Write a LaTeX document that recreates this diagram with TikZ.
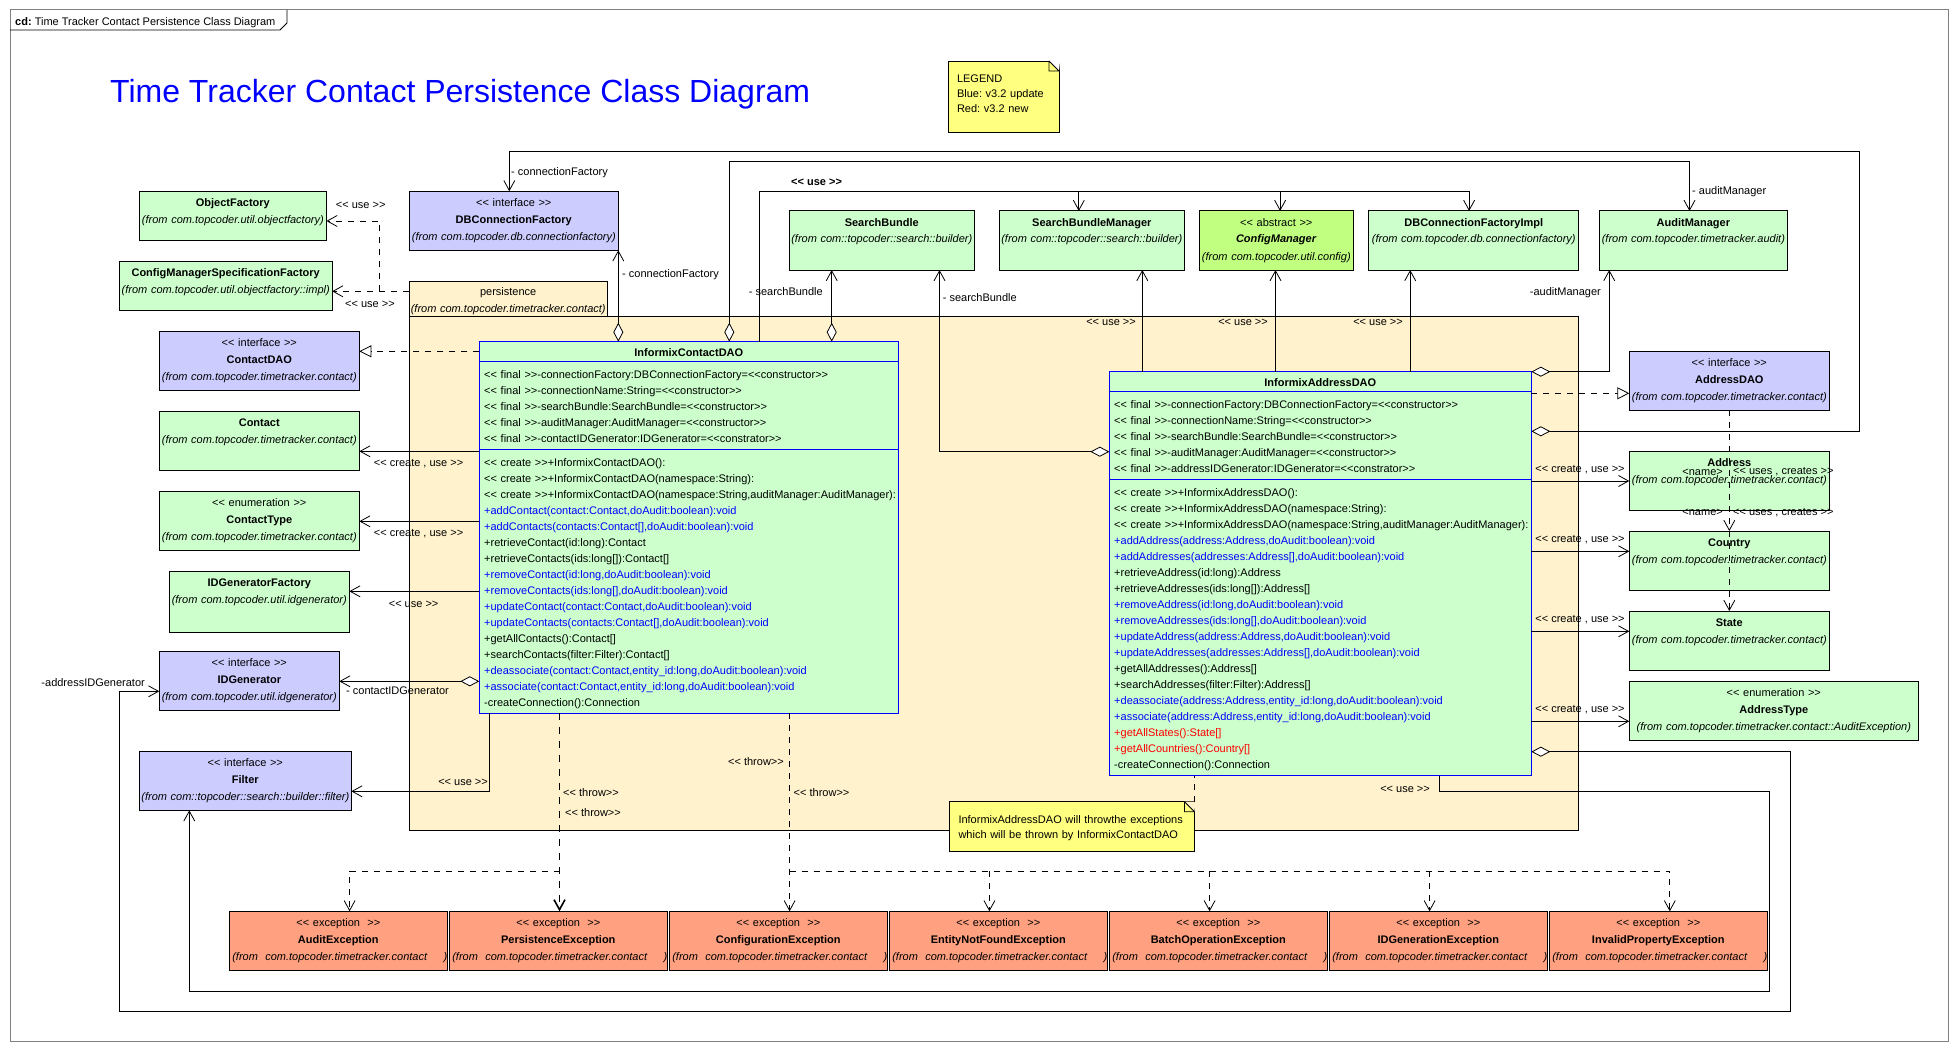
\documentclass[tikz,border=0pt]{standalone}
\usepackage{fontspec}
\usepackage{xcolor}
\usepackage{tikz}
\usetikzlibrary{arrows.meta, positioning}

\newfontfamily\umlfont{Liberation Sans}

\definecolor{classgreen}{RGB}{204,255,204}
\definecolor{ifaceblue}{RGB}{204,204,255}
\definecolor{abstractgreen}{RGB}{192,255,128}
\definecolor{excsalmon}{RGB}{255,160,128}
\definecolor{pkgcream}{RGB}{255,242,204}
\definecolor{noteyellow}{RGB}{255,255,128}
\definecolor{implblue}{RGB}{0,0,255}
\definecolor{v32blue}{RGB}{0,0,255}
\definecolor{v32red}{RGB}{255,0,0}
\definecolor{framegray}{RGB}{128,128,128}

\begin{document}
\frenchspacing
\begin{tikzpicture}[
  x=1pt, y=-1pt,
  umlclass/.style={
    draw=black,
    line width=1pt,
    fill=classgreen,
    anchor=north west,
    inner sep=0pt,
    outer sep=0pt,
    text width=#1,
    align=center,
    text height=15pt,
    text depth=44pt,
    font=\umlfont\fontsize{11}{17}\selectfont
  },
  ifaceclass/.style={umlclass=#1, fill=ifaceblue},
  excclass/.style={umlclass=#1, fill=excsalmon},
  implclass/.style={draw=implblue, line width=1pt, fill=classgreen, anchor=north west, inner sep=0pt, outer sep=0pt},
  members/.style={anchor=north west, inner sep=0pt, text width=430pt, align=left,
    text height=12pt, font=\umlfont\fontsize{11}{16}\selectfont},
  pkg/.style={draw=black, line width=1pt, fill=pkgcream, anchor=north west, inner sep=0pt, outer sep=0pt,
    font=\umlfont\fontsize{11}{17}\selectfont},
  note/.style={draw=black, line width=0.8pt, fill=noteyellow, anchor=north west, inner sep=0pt, outer sep=0pt,
    align=left, font=\umlfont\fontsize{11}{15}\selectfont},
  lbl/.style={inner sep=0pt, font=\umlfont\fontsize{11}{13}\selectfont},
  assoc/.style={-{Straight Barb[length=10pt,width=11pt]}, line width=0.8pt},
  aggr/.style={{Diamond[length=19pt,width=10pt,fill=white]}-{Straight Barb[length=10pt,width=11pt]}, line width=0.8pt},
  depend/.style={assoc, dash pattern=on 6pt off 6pt},
  realize/.style={-{Triangle[length=12pt,width=12pt,fill=white]}, line width=0.8pt, dash pattern=on 6pt off 6pt},
  throwdash/.style={depend},
  notelink/.style={line width=0.8pt, dash pattern=on 6pt off 6pt}
]
\fill[white] (0,0) rectangle (1959,1051);
\useasboundingbox (0,0) rectangle (1959,1051);

% diagram frame
\draw[framegray, line width=1pt] (10,10) rectangle (1948,1041);
\draw[line width=0.8pt] (10,30) -- (280,30) -- (287,23) -- (287,10);
\node[lbl, anchor=base west] (frameName) at (15,25.5) {\textbf{cd:} Time Tracker Contact Persistence Class Diagram};
\node[anchor=base west, inner sep=0pt, text=v32blue, font=\umlfont\fontsize{32}{36}\selectfont] (diagramTitle) at (110,103) {Time Tracker Contact Persistence Class Diagram};

% legend
\node[note, text width=111pt, text height=22pt, text depth=49pt] (legendNote) at (948,61)
  {\hspace*{9pt}LEGEND\\\hspace*{9pt}Blue: v3.2 update\\\hspace*{9pt}Red: v3.2 new};
\fill[white] ([xshift=-10pt]legendNote.north east) -- ([xshift=1pt]legendNote.north east) -- ([yshift=-10pt]legendNote.north east) -- cycle;
\draw[line width=0.8pt] ([xshift=-10pt]legendNote.north east) -- ([yshift=-10pt]legendNote.north east)
  ([xshift=-10pt]legendNote.north east) -- ([xshift=-10pt,yshift=-10pt]legendNote.north east) -- ([yshift=-10pt]legendNote.north east);

% persistence package
\node[pkg, text width=197.8pt, text height=14pt, text depth=20.7pt, align=center] (pkgTab) at (409.3,281.3)
  {persistence\\\textit{(from~com.topcoder.timetracker.contact)}};
\node[pkg, minimum width=1168.7pt, minimum height=514pt] (pkgBody) at (409.3,316) {};

% note on exceptions
\node[note, text width=244.9pt, text height=21.6pt, text depth=27.7pt] (throwNote) at (949.5,801.7)
  {\hspace*{9pt}InformixAddressDAO will throwthe exceptions\\\hspace*{9pt}which will be thrown by InformixContactDAO};
\fill[pkgcream] ([xshift=-10pt]throwNote.north east) -- ([xshift=1pt]throwNote.north east) -- ([yshift=-10pt]throwNote.north east) -- cycle;
\draw[line width=0.8pt] ([xshift=-10pt]throwNote.north east) -- ([yshift=-10pt]throwNote.north east)
  ([xshift=-10pt]throwNote.north east) -- ([xshift=-10pt,yshift=-10pt]throwNote.north east) -- ([yshift=-10pt]throwNote.north east);

% left column
\node[umlclass=187.1pt, text depth=33.7pt] (objFactory) at (139.3,191.3)
  {\textbf{ObjectFactory}\\\textit{(from~com.topcoder.util.objectfactory)}};
\node[umlclass=212.8pt, text depth=34pt] (cmsFactory) at (119.3,261.3)
  {\textbf{ConfigManagerSpecificationFactory}\\\textit{(from~com.topcoder.util.objectfactory::impl)}};
\node[ifaceclass=209pt] (dbConnFactory) at (409.3,191.3)
  {<< interface >>\\\textbf{DBConnectionFactory}\\\textit{(from~com.topcoder.db.connectionfactory)}};
\node[ifaceclass=200pt] (contactDAO) at (159.3,331.3)
  {<< interface >>\\\textbf{ContactDAO}\\\textit{(from~com.topcoder.timetracker.contact)}};
\node[umlclass=200pt, below=21pt of contactDAO] (contact)
  {\textbf{Contact}\\\textit{(from~com.topcoder.timetracker.contact)}};
\node[umlclass=200pt, below=21pt of contact] (contactType)
  {<< enumeration >>\\\textbf{ContactType}\\\textit{(from~com.topcoder.timetracker.contact)}};
\node[umlclass=180pt, text depth=46pt] (idGenFactory) at (169.3,571.3)
  {\textbf{IDGeneratorFactory}\\\textit{(from~com.topcoder.util.idgenerator)}};
\node[ifaceclass=180pt] (idGen) at (159.3,651.3)
  {<< interface >>\\\textbf{IDGenerator}\\\textit{(from~com.topcoder.util.idgenerator)}};
\node[ifaceclass=212pt] (filter) at (139.3,751.3)
  {<< interface >>\\\textbf{Filter}\\\textit{(from~com::topcoder::search::builder::filter)}};

% top row
\node[umlclass=184.5pt] (searchBundle) at (789.5,211)
  {\textbf{SearchBundle}\\\textit{(from~com::topcoder::search::builder)}};
\node[umlclass=185.2pt, right=25.2pt of searchBundle] (sbManager)
  {\textbf{SearchBundleManager}\\\textit{(from~com::topcoder::search::builder)}};
\node[umlclass=154.6pt, fill=abstractgreen, right=14.6pt of sbManager] (configMgr)
  {<< abstract >>\\\textbf{\textit{ConfigManager}}\\\textit{(from~com.topcoder.util.config)}};
\node[umlclass=209.7pt, right=15.3pt of configMgr] (dbConnFactoryImpl)
  {\textbf{DBConnectionFactoryImpl}\\\textit{(from~com.topcoder.db.connectionfactory)}};
\node[umlclass=188.3pt, right=20.6pt of dbConnFactoryImpl] (auditMgr)
  {\textbf{AuditManager}\\\textit{(from~com.topcoder.timetracker.audit)}};

% right column
\node[ifaceclass=200pt] (addressDAO) at (1629.3,351)
  {<< interface >>\\\textbf{AddressDAO}\\\textit{(from~com.topcoder.timetracker.contact)}};
\node[umlclass=200pt, below=41pt of addressDAO] (address)
  {\textbf{Address}\\\textit{(from~com.topcoder.timetracker.contact)}};
\node[umlclass=200pt, below=21pt of address] (country)
  {\textbf{Country}\\\textit{(from~com.topcoder.timetracker.contact)}};
\node[umlclass=200pt, below=21pt of country] (state)
  {\textbf{State}\\\textit{(from~com.topcoder.timetracker.contact)}};
\node[umlclass=289pt] (addressType) at (1629.3,681.3)
  {<< enumeration >>\\\textbf{AddressType}\\\textit{(from~com.topcoder.timetracker.contact::AuditException)}};

% exceptions
\node[excclass=218pt] (auditEx) at (229.3,911.3)
  {<< exception\ \ >>\\\textbf{AuditException}\\\textit{\hspace*{3pt}(from~ com.topcoder.timetracker.contact\hfill)\hspace*{3pt}}};
\node[excclass=218pt, right=2pt of auditEx] (persistEx)
  {<< exception\ \ >>\\\textbf{PersistenceException}\\\textit{\hspace*{3pt}(from~ com.topcoder.timetracker.contact\hfill)\hspace*{3pt}}};
\node[excclass=218pt, right=2pt of persistEx] (configEx)
  {<< exception\ \ >>\\\textbf{ConfigurationException}\\\textit{\hspace*{3pt}(from~ com.topcoder.timetracker.contact\hfill)\hspace*{3pt}}};
\node[excclass=218pt, right=2pt of configEx] (notFoundEx)
  {<< exception\ \ >>\\\textbf{EntityNotFoundException}\\\textit{\hspace*{3pt}(from~ com.topcoder.timetracker.contact\hfill)\hspace*{3pt}}};
\node[excclass=218pt, right=2pt of notFoundEx] (batchEx)
  {<< exception\ \ >>\\\textbf{BatchOperationException}\\\textit{\hspace*{3pt}(from~ com.topcoder.timetracker.contact\hfill)\hspace*{3pt}}};
\node[excclass=218pt, right=2pt of batchEx] (idGenEx)
  {<< exception\ \ >>\\\textbf{IDGenerationException}\\\textit{\hspace*{3pt}(from~ com.topcoder.timetracker.contact\hfill)\hspace*{3pt}}};
\node[excclass=218pt, right=2pt of idGenEx] (invalidEx)
  {<< exception\ \ >>\\\textbf{InvalidPropertyException}\\\textit{\hspace*{3pt}(from~ com.topcoder.timetracker.contact\hfill)\hspace*{3pt}}};

% InformixContactDAO
\node[implclass, minimum width=419pt, minimum height=371.6pt] (contactDAOImpl) at (479.3,341.7) {};
\draw[implblue, line width=1pt] (contactDAOImpl.west |- 0,361.7) -- (contactDAOImpl.east |- 0,361.7)
  (contactDAOImpl.west |- 0,449) -- (contactDAOImpl.east |- 0,449);
\node[lbl, anchor=base] (contactDAOImplName) at (688.8,356.3) {\textbf{InformixContactDAO}};
\node[members] (contactDAOImplAttrs) at (484,366.3) {%
<< final >>-connectionFactory:DBConnectionFactory=<<constructor>>\\
<< final >>-connectionName:String=<<constructor>>\\
<< final >>-searchBundle:SearchBundle=<<constructor>>\\
<< final >>-auditManager:AuditManager=<<constructor>>\\
<< final >>-contactIDGenerator:IDGenerator=<<constrator>>};
\node[members] (contactDAOImplOps) at (484,454.3) {%
<< create >>+InformixContactDAO():\\
<< create >>+InformixContactDAO(namespace:String):\\
<< create >>+InformixContactDAO(namespace:String,auditManager:AuditManager):\\
\textcolor{v32blue}{+addContact(contact:Contact,doAudit:boolean):void}\\
\textcolor{v32blue}{+addContacts(contacts:Contact[],doAudit:boolean):void}\\
+retrieveContact(id:long):Contact\\
+retrieveContacts(ids:long[]):Contact[]\\
\textcolor{v32blue}{+removeContact(id:long,doAudit:boolean):void}\\
\textcolor{v32blue}{+removeContacts(ids:long[],doAudit:boolean):void}\\
\textcolor{v32blue}{+updateContact(contact:Contact,doAudit:boolean):void}\\
\textcolor{v32blue}{+updateContacts(contacts:Contact[],doAudit:boolean):void}\\
+getAllContacts():Contact[]\\
+searchContacts(filter:Filter):Contact[]\\
\textcolor{v32blue}{+deassociate(contact:Contact,entity\_id:long,doAudit:boolean):void}\\
\textcolor{v32blue}{+associate(contact:Contact,entity\_id:long,doAudit:boolean):void}\\
-createConnection():Connection};

% InformixAddressDAO
\node[implclass, minimum width=422pt, minimum height=404pt] (addressDAOImpl) at (1109.3,371.7) {};
\draw[implblue, line width=1pt] (addressDAOImpl.west |- 0,391.7) -- (addressDAOImpl.east |- 0,391.7)
  (addressDAOImpl.west |- 0,479.3) -- (addressDAOImpl.east |- 0,479.3);
\node[lbl, anchor=base] (addressDAOImplName) at (1320.3,386.3) {\textbf{InformixAddressDAO}};
\node[members] (addressDAOImplAttrs) at (1114,396.3) {%
<< final >>-connectionFactory:DBConnectionFactory=<<constructor>>\\
<< final >>-connectionName:String=<<constructor>>\\
<< final >>-searchBundle:SearchBundle=<<constructor>>\\
<< final >>-auditManager:AuditManager=<<constructor>>\\
<< final >>-addressIDGenerator:IDGenerator=<<constrator>>};
\node[members] (addressDAOImplOps) at (1114,484.3) {%
<< create >>+InformixAddressDAO():\\
<< create >>+InformixAddressDAO(namespace:String):\\
<< create >>+InformixAddressDAO(namespace:String,auditManager:AuditManager):\\
\textcolor{v32blue}{+addAddress(address:Address,doAudit:boolean):void}\\
\textcolor{v32blue}{+addAddresses(addresses:Address[],doAudit:boolean):void}\\
+retrieveAddress(id:long):Address\\
+retrieveAddresses(ids:long[]):Address[]\\
\textcolor{v32blue}{+removeAddress(id:long,doAudit:boolean):void}\\
\textcolor{v32blue}{+removeAddresses(ids:long[],doAudit:boolean):void}\\
\textcolor{v32blue}{+updateAddress(address:Address,doAudit:boolean):void}\\
\textcolor{v32blue}{+updateAddresses(addresses:Address[],doAudit:boolean):void}\\
+getAllAddresses():Address[]\\
+searchAddresses(filter:Filter):Address[]\\
\textcolor{v32blue}{+deassociate(address:Address,entity\_id:long,doAudit:boolean):void}\\
\textcolor{v32blue}{+associate(address:Address,entity\_id:long,doAudit:boolean):void}\\
\textcolor{v32red}{+getAllStates():State[]}\\
\textcolor{v32red}{+getAllCountries():Country[]}\\
-createConnection():Connection};

% object factory dependencies
\coordinate (useFork) at (379.3,291.3);
\draw[depend] (pkgTab.west |- useFork) -- (cmsFactory.east |- useFork);
\draw[depend] (useFork) |- (objFactory.east |- 0,221);
\node[lbl] (lblUseObj) at (360.7,205) {<< use >>};
\node[lbl] (lblUseCms) at (370,304) {<< use >>};

% InformixContactDAO connectors
\draw[realize] (contactDAOImpl.west |- 0,351.3) -- (contactDAO.east |- 0,351.3);
\draw[assoc] (contactDAOImpl.west |- 0,451.3) -- (contact.east |- 0,451.3);
\node[lbl] (lblContact) at (418.6,464) {<< create , use >>};
\draw[assoc] (contactDAOImpl.west |- 0,521.3) -- (contactType.east |- 0,521.3);
\node[lbl] (lblContactType) at (418.6,534) {<< create , use >>};
\draw[assoc] (contactDAOImpl.west |- 0,591.3) -- (idGenFactory.east |- 0,591.3);
\node[lbl] (lblIdGenFactory) at (413.6,604) {<< use >>};
\draw[aggr] (contactDAOImpl.west |- 0,681.3) -- (idGen.east |- 0,681.3);
\node[lbl, anchor=west] (lblContactIdGen) at (346,691) {- contactIDGenerator};
\draw[assoc] (contactDAOImpl.south -| 489.3,0) |- (filter.east |- 0,791.3);
\node[lbl, anchor=east] (lblFilterContact) at (488,782) {<< use >>};
\draw[aggr] (contactDAOImpl.north -| dbConnFactory.south east) -- (dbConnFactory.south east);
\node[lbl, anchor=west] (lblConnFactoryContact) at (622,275) {- connectionFactory};
\draw[aggr] (contactDAOImpl.north -| 729.3,0) -- (729.3,161.3) -- (1689.5,161.3) -- (auditMgr.north -| 1689.5,0);
\node[lbl, anchor=west] (lblAuditContact) at (1692,192) {- auditManager};
\draw[assoc] (contactDAOImpl.north -| 759.3,0) -- (759.3,191.3) -- (1469.1,191.3) -- (dbConnFactoryImpl.north -| 1469.1,0);
\draw[assoc] (1078.8,191.3) -- (sbManager.north -| 1078.8,0);
\draw[assoc] (1280.1,191.3) -- (configMgr.north -| 1280.1,0);
\node[lbl, anchor=west] (lblUseTop) at (791,182) {\textbf{<< use >>}};
\draw[aggr] (contactDAOImpl.north -| 831.7,0) -- (searchBundle.south -| 831.7,0);
\node[lbl, anchor=east] (lblSbContact) at (823,292) {- searchBundle};

% exceptions thrown
\coordinate (throwForkLeft) at (559.5,871);
\coordinate (throwForkRight) at (789.6,871);
\draw[throwdash, line width=1.6pt, dash pattern=on 7pt off 7pt] (contactDAOImpl.south -| throwForkLeft) -- (persistEx.north -| throwForkLeft);
\draw[throwdash] (contactDAOImpl.south -| throwForkRight) -- (configEx.north -| throwForkRight);
\draw[throwdash] (throwForkLeft) -| (auditEx.north -| 349.6,0);
\draw[throwdash] (throwForkRight) -- (1669.8,871) -- (invalidEx.north -| 1669.8,0);
\draw[throwdash] (989.4,871) -- (notFoundEx.north -| 989.4,0);
\draw[throwdash] (1209.6,871) -- (batchEx.north -| 1209.6,0);
\draw[throwdash] (1429.6,871) -- (idGenEx.north -| 1429.6,0);
\node[lbl, anchor=west] (lblThrow1) at (563,793) {<< throw>>};
\node[lbl, anchor=west] (lblThrow2) at (565,813) {<< throw>>};
\node[lbl, anchor=east] (lblThrow3) at (784,762) {<< throw>>};
\node[lbl, anchor=west] (lblThrow4) at (793.5,793) {<< throw>>};

% InformixAddressDAO connectors
\draw[realize] (addressDAOImpl.east |- 0,393.3) -- (addressDAO.west |- 0,393.3);
\draw[aggr] (addressDAOImpl.north east) -| (auditMgr.south -| 1609.2,0);
\node[lbl, anchor=east] (lblAuditAddress) at (1601,292.7) {-auditManager};
\draw[aggr] (addressDAOImpl.east |- 0,431.3) -- (1859.3,431.3) -- (1859.3,151.3) -- (509.3,151.3) -- (dbConnFactory.north -| 509.3,0);
\node[lbl, anchor=west] (lblConnFactoryAddress) at (511,173) {- connectionFactory};
\draw[aggr] (addressDAOImpl.west |- 0,451.7) -| (searchBundle.south -| 939.5,0);
\node[lbl, anchor=west] (lblSbAddress) at (942.6,297.3) {- searchBundle};
\draw[assoc] (addressDAOImpl.north -| 1142.3,0) -- (sbManager.south -| 1142.3,0);
\draw[assoc] (addressDAOImpl.north -| 1275.5,0) -- (configMgr.south -| 1275.5,0);
\draw[assoc] (addressDAOImpl.north -| 1410.2,0) -- (dbConnFactoryImpl.south -| 1410.2,0);
\node[lbl, anchor=east] (lblUseSbm) at (1136,322.7) {<< use >>};
\node[lbl, anchor=east] (lblUseCm) at (1268,322.7) {<< use >>};
\node[lbl, anchor=east] (lblUseDbcfi) at (1403,322.7) {<< use >>};
\draw[assoc] (addressDAOImpl.east |- 0,481) -- (address.west |- 0,481);
\node[lbl] (lblAddress) at (1580,469.3) {<< create , use >>};
\draw[assoc] (addressDAOImpl.east |- 0,551.3) -- (country.west |- 0,551.3);
\node[lbl] (lblCountry) at (1580,539.3) {<< create , use >>};
\draw[assoc] (addressDAOImpl.east |- 0,631.3) -- (state.west |- 0,631.3);
\node[lbl] (lblState) at (1580,619.3) {<< create , use >>};
\draw[assoc] (addressDAOImpl.east |- 0,721.3) -- (addressType.west |- 0,721.3);
\node[lbl] (lblAddressType) at (1580,709.3) {<< create , use >>};
\draw[aggr] (addressDAOImpl.east |- 0,751.7) -- (1790.4,751.7) -- (1790.4,1011) -- (119.3,1011) -- (119.3,691.3) -- (idGen.west |- 0,691.3);
\node[lbl, anchor=east] (lblAddressIdGen) at (145,682.3) {-addressIDGenerator};
\draw[assoc] (addressDAOImpl.south -| 1439.2,0) -- (1439.2,791) -- (1769.7,791) -- (1769.7,991) -- (189.3,991) -- (filter.south -| 189.3,0);
\node[lbl, anchor=east] (lblFilterAddress) at (1430,789.3) {<< use >>};
\draw[notelink] (throwNote.north east) -- (addressDAOImpl.south -| throwNote.north east);

% address dependencies
\draw[depend] (addressDAO.south) -- (country.north);
\draw[depend] (country.north) -- (state.north);
\node[lbl, anchor=east] (lblName1) at (1723,472) {<name>};
\node[lbl, anchor=west] (lblUses1) at (1733,472) {<< uses , creates >>};
\node[lbl, anchor=east] (lblName2) at (1723,512.7) {<name>};
\node[lbl, anchor=west] (lblUses2) at (1733,512.7) {<< uses , creates >>};
\end{tikzpicture}
\end{document}
